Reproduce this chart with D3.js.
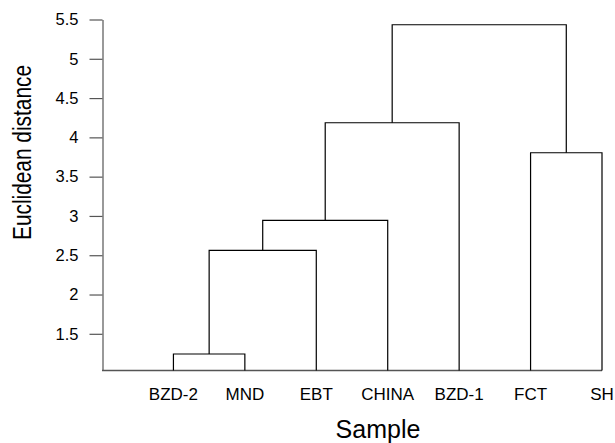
<!DOCTYPE html>
<html>
<head>
<meta charset="utf-8">
<script src="https://cdn.jsdelivr.net/npm/d3@7"></script>
<style>
  body { margin: 0; background: #fff; }
  svg text { font-family: "Liberation Sans", Arial, sans-serif; }
</style>
</head>
<body>
<div id="chart"></div>
<script>
(function () {
  // leaves, left to right
  const samples = ['BZD-2', 'MND', 'EBT', 'CHINA', 'BZD-1', 'FCT', 'SH'];
  // merges: child ids (0-6 leaves, 7+ earlier merges) and the joining distance
  const mergeLeft = [0, 7, 8, 9, 5, 10];
  const mergeRight = [1, 2, 3, 4, 6, 11];
  const mergeHeight = [1.243, 2.562, 2.944, 4.186, 3.804, 5.433];
  const yTicks = [1.5, 2, 2.5, 3, 3.5, 4, 4.5, 5, 5.5];
  const yDomain = [1.033, 5.5];

  const width = 615, height = 443;
  const lineColor = '#000';
  const axisColor = '#555';

  const svg = d3.select('#chart').append('svg')
    .attr('width', width)
    .attr('height', height);

  const x = d3.scaleLinear()
    .domain([0, samples.length])
    .range([102, 602]);

  const y = d3.scaleLinear()
    .domain(yDomain)
    .range([370.5, 19.5]);

  // node positions: leaves sit on the baseline, merges at their height
  const nodes = samples.map(function (s, i) {
    return { x: x(i + 1), h: yDomain[0] };
  });
  mergeHeight.forEach(function (h, i) {
    const a = nodes[mergeLeft[i]], b = nodes[mergeRight[i]];
    nodes.push({ x: (a.x + b.x) / 2, h: h, a: a, b: b });
  });

  // y axis
  const yAxis = d3.axisLeft(y)
    .tickValues(yTicks)
    .tickFormat(function (d) { return String(d); })
    .tickSizeInner(13)
    .tickSizeOuter(0)
    .tickPadding(11);

  const gy = svg.append('g')
    .attr('transform', 'translate(102.5,0)')
    .call(yAxis);
  gy.select('.domain').attr('stroke', axisColor).attr('stroke-width', 1.2);
  gy.selectAll('.tick line').attr('stroke', axisColor).attr('stroke-width', 1.2);
  gy.selectAll('.tick text')
    .attr('fill', '#000')
    .style('font-size', '16.5px');

  // baseline
  svg.append('line')
    .attr('x1', x(0)).attr('x2', x(samples.length))
    .attr('y1', y(yDomain[0])).attr('y2', y(yDomain[0]))
    .attr('stroke', axisColor)
    .attr('stroke-width', 1.3);

  // dendrogram links
  const links = svg.append('g').attr('class', 'links');
  nodes.filter(function (n) { return n.a; }).forEach(function (n) {
    const p = [
      [n.a.x, y(n.a.h)], [n.a.x, y(n.h)],
      [n.b.x, y(n.h)], [n.b.x, y(n.b.h)]
    ];
    links.append('path')
      .attr('d', d3.line()(p))
      .attr('fill', 'none')
      .attr('stroke', lineColor)
      .attr('stroke-width', 1.2);
  });

  // sample labels
  svg.selectAll('text.sample')
    .data(samples)
    .enter()
    .append('text')
    .attr('class', 'sample')
    .attr('x', function (d, i) { return x(i + 1); })
    .attr('y', 400)
    .attr('text-anchor', 'middle')
    .style('font-size', '17px')
    .text(function (d) { return d; });

  // axis titles
  svg.append('text')
    .attr('x', 378)
    .attr('y', 438)
    .attr('text-anchor', 'middle')
    .style('font-size', '25px')
    .text('Sample');

  svg.append('text')
    .attr('transform', 'translate(31,152.5) rotate(-90)')
    .attr('text-anchor', 'middle')
    .attr('textLength', 175)
    .attr('lengthAdjust', 'spacingAndGlyphs')
    .style('font-size', '26px')
    .text('Euclidean distance');
}());
</script>
</body>
</html>
